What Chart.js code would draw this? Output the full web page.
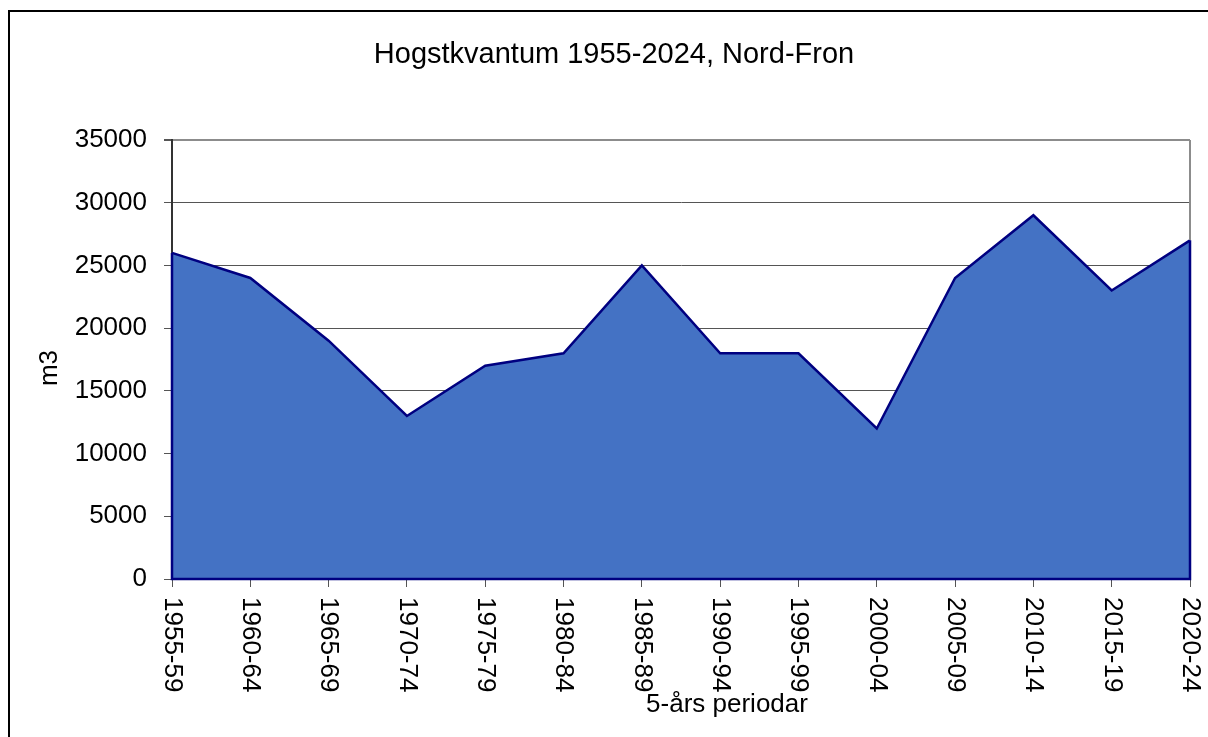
<!DOCTYPE html>
<html>
<head>
<meta charset="utf-8">
<script src="https://cdn.jsdelivr.net/npm/chart.js@4"></script>
<style>
    html, body { margin: 0; padding: 0; background: #fff; }
    #wrap { position: relative; width: 1208px; height: 737px; }
</style>
</head>
<body>
<div id="wrap"><canvas id="hogstChart"></canvas></div>
<script>
// Chart data
const periods = ['1955-59', '1960-64', '1965-69', '1970-74', '1975-79', '1980-84', '1985-89',
    '1990-94', '1995-99', '2000-04', '2005-09', '2010-14', '2015-19', '2020-24'];
const volumes = [26000, 24000, 19000, 13000, 17000, 18000, 25000, 18000, 18000, 12000, 24000, 29000, 23000, 27000];
const yMax = 35000;
const yStep = 5000;

const chartTitle = 'Hogstkvantum 1955-2024, Nord-Fron';
const xTitle = '5-års periodar';
const yTitle = 'm3';

const FONT = 'Arial, "Liberation Sans", sans-serif';
const LINE = '#000080';

// Frame, titles and top-to-bottom category labels
const decorations = {
    id: 'decorations',
    beforeDraw(chart) {
        const ctx = chart.ctx;
        ctx.save();
        ctx.fillStyle = '#fff';
        ctx.fillRect(0, 0, chart.width, chart.height);
        ctx.strokeStyle = '#000';
        ctx.lineWidth = 2;
        ctx.beginPath();
        ctx.moveTo(9, chart.height);
        ctx.lineTo(9, 11);
        ctx.lineTo(chart.width, 11);
        ctx.stroke();
        ctx.restore();
    },
    afterDatasetsDraw(chart) {
        const ctx = chart.ctx;
        const area = chart.chartArea;
        const pts = chart.getDatasetMeta(0).data;
        const first = pts[0], last = pts[pts.length - 1];
        ctx.save();
        // right border of plot area
        ctx.strokeStyle = '#8c8c8c';
        ctx.lineWidth = 2;
        ctx.beginPath();
        ctx.moveTo(area.right, area.top);
        ctx.lineTo(area.right, last.y);
        ctx.stroke();
        // area outline: sides and base
        ctx.strokeStyle = LINE;
        ctx.lineWidth = 2.5;
        ctx.lineJoin = 'miter';
        ctx.beginPath();
        ctx.moveTo(first.x, first.y);
        ctx.lineTo(first.x, area.bottom);
        ctx.lineTo(last.x, area.bottom);
        ctx.lineTo(last.x, last.y);
        ctx.stroke();
        ctx.restore();
    },
    afterDraw(chart) {
        const ctx = chart.ctx;
        const xScale = chart.scales.x;
        ctx.save();
        ctx.fillStyle = '#000';
        ctx.font = '29px ' + FONT;
        ctx.textAlign = 'center';
        ctx.textBaseline = 'alphabetic';
        ctx.fillText(chartTitle, 614, 63);

        ctx.font = '26px ' + FONT;
        ctx.fillText(xTitle, 727, 712);

        ctx.save();
        ctx.translate(57, 368);
        ctx.rotate(-Math.PI / 2);
        ctx.fillText(yTitle, 0, 0);
        ctx.restore();

        ctx.textAlign = 'left';
        ctx.textBaseline = 'middle';
        periods.forEach((p, i) => {
            const x = xScale.getPixelForTick(i);
            ctx.save();
            ctx.translate(x, 597);
            ctx.rotate(Math.PI / 2);
            ctx.fillText(p, 0, 0);
            ctx.restore();
        });
        ctx.restore();
    }
};

new Chart(document.getElementById('hogstChart'), {
    type: 'line',
    data: {
        labels: periods,
        datasets: [{
            data: volumes,
            fill: 'origin',
            backgroundColor: '#4472C4',
            borderColor: LINE,
            borderWidth: 2.5,
            tension: 0,
            pointRadius: 0,
            pointHoverRadius: 0
        }]
    },
    options: {
        responsive: true,
        maintainAspectRatio: false,
        animation: false,
        events: [],
        layout: { padding: { top: 140, right: 18, left: 0, bottom: 0 } },
        plugins: {
            legend: { display: false },
            title: { display: false },
            tooltip: { enabled: false }
        },
        scales: {
            x: {
                offset: false,
                afterFit: (scale) => { scale.height = 158; },
                grid: {
                    drawOnChartArea: false,
                    drawTicks: true,
                    tickLength: 8,
                    tickColor: '#555'
                },
                border: { color: '#000', width: 2 },
                ticks: { display: false }
            },
            y: {
                min: 0,
                max: yMax,
                afterFit: (scale) => { scale.width = 172; },
                grid: {
                    color: (c) => (c.tick && c.tick.value === yMax) ? '#8c8c8c' : '#555',
                    lineWidth: (c) => (c.tick && c.tick.value === yMax) ? 2 : 1,
                    tickLength: 8,
                    tickColor: '#555'
                },
                border: { color: '#333', width: 2 },
                ticks: {
                    stepSize: yStep,
                    padding: 17,
                    color: '#000',
                    font: { family: FONT, size: 26 },
                    callback: (v) => String(v)
                }
            }
        }
    },
    plugins: [decorations]
});
</script>
</body>
</html>
